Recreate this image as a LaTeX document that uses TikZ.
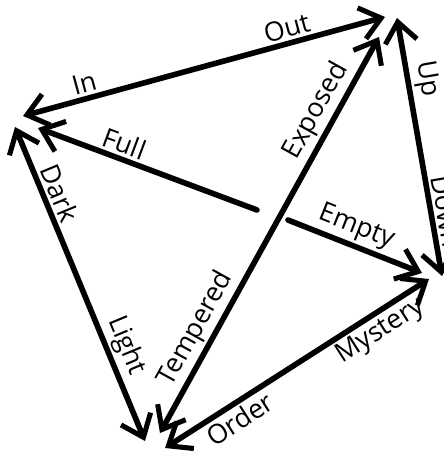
\documentclass[tikz,border=0pt]{standalone}
\usepackage{fontspec}
\setmainfont{Open Sans}
\usepackage{tikz}
\usetikzlibrary{arrows.meta}

\begin{document}
\begin{tikzpicture}[
        x=0.025cm, y=-0.025cm,
        line/.style={line width=4pt, line cap=round},
        arrow/.style={line, {Straight Barb[length=5mm, width=8mm, line width=3.6pt]}-{Straight Barb[length=5mm, width=8mm, line width=3.6pt]}},
        toward/.style={line, {Straight Barb[length=5mm, width=8mm, line width=3.6pt]}-},
        word/.style={sloped, inner sep=2pt, font=\fontsize{19}{19}\selectfont}
    ]
        \useasboundingbox (0,0) rectangle (444,452);

        % corner ends
        \coordinate (in) at (23,116);
        \coordinate (full) at (38,128);
        \coordinate (dark) at (15,127);
        \coordinate (out) at (385,17);
        \coordinate (exposed) at (379,37);
        \coordinate (up) at (397,18);
        \coordinate (empty) at (422,273);
        \coordinate (mystery) at (429,279);
        \coordinate (down) at (442,276);
        \coordinate (light) at (145,441);
        \coordinate (tempered) at (160,433);
        \coordinate (order) at (165,448);
        % middle
        \coordinate (fullstart) at (257,210);
        \coordinate (emptystart) at (288,220);

        \draw[arrow] (in) -- node[word, above, pos=0.18] {In} node[word, above, pos=0.74] {Out} (out);
        \draw[arrow] (dark) -- node[word, above, pos=0.23] {Dark} node[word, above, pos=0.72] {Light} (light);
        \draw[arrow] (tempered) -- node[word, above, pos=0.24] {Tempered} node[word, above, pos=0.79] {Exposed} (exposed);
        \draw[arrow] (up) -- node[word, above, pos=0.25] {Up} node[word, above, pos=0.76] {Down} (down);
        \draw[arrow] (order) -- node[word, below, pos=0.25] {Order} node[word, below, pos=0.78] {Mystery} (mystery);
        \draw[toward] (full) -- node[word, above, pos=0.37] {Full} (fullstart);
        \draw[toward] (empty) -- node[word, above, pos=0.54] {Empty} (emptystart);
    \end{tikzpicture}
\end{document}
